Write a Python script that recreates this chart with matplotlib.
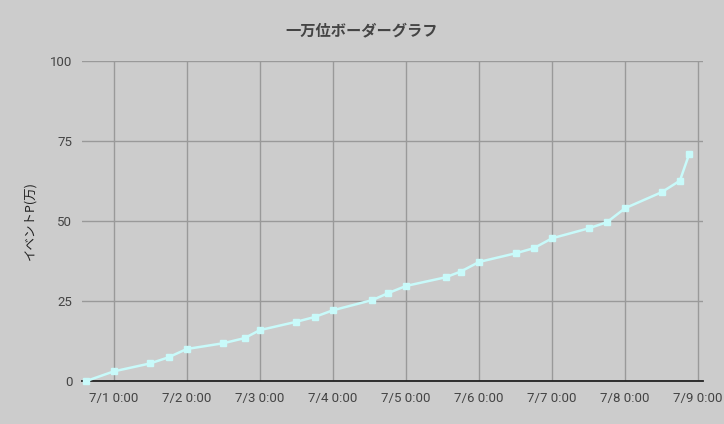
import matplotlib.pyplot as plt
import pandas as pd

TIMES = [
    "2023-06-30 15:00", "2023-07-01 00:00", "2023-07-01 12:00", "2023-07-01 18:00",
    "2023-07-02 00:00", "2023-07-02 12:00", "2023-07-02 19:00",
    "2023-07-03 00:00", "2023-07-03 12:00", "2023-07-03 18:00",
    "2023-07-04 00:00", "2023-07-04 13:00", "2023-07-04 18:00",
    "2023-07-05 00:00", "2023-07-05 13:00", "2023-07-05 18:00",
    "2023-07-06 00:00", "2023-07-06 12:00", "2023-07-06 18:00",
    "2023-07-07 00:00", "2023-07-07 12:00", "2023-07-07 18:00",
    "2023-07-08 00:00", "2023-07-08 12:00", "2023-07-08 18:00", "2023-07-08 21:00",
]
POINTS = [
    0.0, 3.0, 5.5, 7.4,
    10.0, 11.8, 13.4,
    15.9, 18.5, 20.0,
    22.1, 25.3, 27.4,
    29.7, 32.4, 34.2,
    37.2, 39.9, 41.5,
    44.6, 47.7, 49.6,
    54.0, 59.0, 62.6, 70.8,
]
TICK_DAYS = pd.date_range("2023-07-01", "2023-07-09", freq="D")
TICK_LABELS = [f"7/{d} 0:00" for d in range(1, 10)]
Y_TICKS = [0, 25, 50, 75, 100]

TITLE = "一万位ボーダーグラフ"
YLABEL = "イベントP(万)"

BG = "#cccccc"
LINE = "#c8fafa"
GRID = "#999999"
TEXT = "#444444"
FONTS = ["Roboto", "Noto Sans CJK JP", "DejaVu Sans"]

plt.rcParams["font.family"] = FONTS

fig = plt.figure(figsize=(7.24, 4.24), dpi=100, facecolor=BG)
ax = fig.add_axes([82 / 724, 43 / 424, 621 / 724, 320 / 424], facecolor=BG)

x = pd.to_datetime(TIMES)
ax.plot(x, POINTS, color=LINE, lw=1.8, marker="s", ms=4, zorder=3,
        clip_on=False)

start = pd.Timestamp("2023-07-01")
ax.set_xlim(start - pd.Timedelta(days=0.434), start + pd.Timedelta(days=8.066))
ax.set_ylim(0, 100)

ax.set_xticks(TICK_DAYS)
ax.set_xticklabels(TICK_LABELS)
ax.set_yticks(Y_TICKS)
ax.set_yticklabels([str(v) for v in Y_TICKS])

# google-chart style: grey grid, only the baseline drawn dark
ax.grid(True, color=GRID, lw=1)
ax.set_axisbelow(True)
for side in ["top", "right", "left"]:
    ax.spines[side].set_visible(False)
ax.spines["bottom"].set_color("#222222")
ax.spines["bottom"].set_linewidth(1.3)
ax.spines["bottom"].set_zorder(2.5)

ax.tick_params(axis="both", length=0, labelsize=9.5, labelcolor=TEXT)
ax.tick_params(axis="x", pad=8)
ax.tick_params(axis="y", pad=7)

fig.text(362 / 724, 1 - 30 / 424, TITLE, ha="center", va="center",
         fontsize=11, fontweight="bold", color=TEXT,
         family=["Noto Sans CJK JP", "DejaVu Sans"])
fig.text(30 / 724, 1 - 221 / 424, YLABEL, ha="center", va="center",
         rotation=90, fontsize=9, color="#222222",
         family=["Noto Sans CJK JP", "DejaVu Sans"])

fig.savefig("out.png", dpi=100, facecolor=BG)
